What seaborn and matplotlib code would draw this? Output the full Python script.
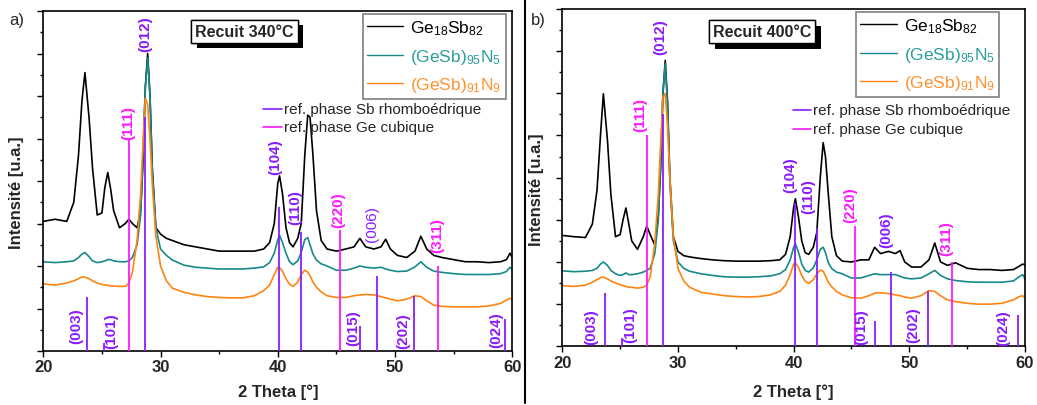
import numpy as np
import pandas as pd
import matplotlib
matplotlib.use("Agg")
import matplotlib.pyplot as plt
import matplotlib.patheffects as pe
from matplotlib.lines import Line2D
from matplotlib.ticker import MultipleLocator, NullFormatter
import seaborn as sns

# ---------------------------------------------------------------- data
TWO_THETA = [20, 21, 22, 22.6, 23.0, 23.3, 23.55, 23.9, 24.2, 24.6, 25.0, 25.25, 25.5,
             25.75, 26.0, 26.5, 27.0, 27.3, 27.6, 28.0, 28.3, 28.5, 28.7, 28.9, 29.1,
             29.3, 29.6, 30.0, 30.5, 31, 32, 33, 34, 35, 36, 37, 38, 38.8, 39.3, 39.7,
             40.0, 40.15, 40.4, 40.7, 41.0, 41.3, 41.7, 42.0, 42.3, 42.55, 42.75, 43.0,
             43.3, 43.7, 44.2, 45, 45.8, 46.5, 47.0, 47.5, 48.2, 48.8, 49.2, 49.6, 50.2,
             51.0, 51.7, 52.2, 52.7, 53.3, 54, 55, 56, 57, 58, 59, 59.5, 59.8, 60]

# annealed at 340 °C
A_GESB = [3.05, 3.10, 3.05, 3.50, 4.60, 5.90, 6.55, 5.50, 4.30, 3.20, 3.25, 3.85, 4.20,
          3.80, 3.30, 2.90, 3.00, 3.10, 3.00, 2.90, 3.30, 4.40, 6.20, 7.00, 6.00,
          4.30, 2.90, 2.75, 2.65, 2.60, 2.50, 2.45, 2.40, 2.35, 2.35, 2.35, 2.35, 2.40, 2.55, 3.00,
          3.95, 4.12, 3.70, 2.90, 2.55, 2.45, 2.65, 3.00, 4.60, 5.55, 5.50, 4.60,
          3.30, 2.60, 2.40, 2.35, 2.40, 2.45, 2.65, 2.45, 2.40, 2.45, 2.63, 2.40, 2.25,
          2.20, 2.35, 2.70, 2.40, 2.25, 2.20, 2.15, 2.10, 2.10, 2.08, 2.10, 2.15, 2.30, 2.20]
A_N5 = [2.10, 2.08, 2.10, 2.12, 2.20, 2.28, 2.32, 2.22, 2.12, 2.08, 2.10, 2.12, 2.15,
        2.15, 2.12, 2.10, 2.10, 2.12, 2.20, 2.50, 3.20, 4.60, 6.20, 6.90, 6.00,
        4.20, 2.90, 2.40, 2.25, 2.14, 2.02, 1.97, 1.95, 1.93, 1.93, 1.93, 1.95, 1.98, 2.08, 2.30,
        2.62, 2.72, 2.55, 2.30, 2.10, 2.03, 2.12, 2.32, 2.62, 2.67, 2.50, 2.28,
        2.14, 2.05, 2.00, 1.90, 1.90, 1.95, 2.00, 1.97, 1.95, 1.97, 1.93, 1.90, 1.87,
        1.88, 1.98, 2.10, 1.97, 1.88, 1.85, 1.82, 1.80, 1.80, 1.80, 1.82, 1.87, 1.97, 1.92]
A_N9 = [1.58, 1.55, 1.60, 1.65, 1.70, 1.74, 1.74, 1.70, 1.65, 1.60, 1.57, 1.55, 1.55,
        1.53, 1.53, 1.52, 1.52, 1.60, 1.85, 2.60, 3.70, 4.90, 5.95, 5.80, 5.00,
        3.90, 2.70, 2.00, 1.65, 1.48, 1.38, 1.32, 1.28, 1.26, 1.25, 1.25, 1.30, 1.42, 1.55, 1.80,
        1.97, 1.96, 1.88, 1.70, 1.57, 1.52, 1.62, 1.80, 1.90, 1.86, 1.77, 1.62,
        1.50, 1.39, 1.30, 1.26, 1.26, 1.30, 1.32, 1.33, 1.32, 1.28, 1.25, 1.22, 1.18,
        1.22, 1.30, 1.28, 1.18, 1.08, 1.05, 1.04, 1.04, 1.04, 1.06, 1.12, 1.20, 1.24, 1.22]

# annealed at 400 °C
B_GESB = [2.63, 2.60, 2.58, 2.90, 3.70, 5.00, 5.99, 4.90, 3.60, 2.60, 2.65, 3.00, 3.28,
          2.90, 2.50, 2.30, 2.60, 2.85, 2.65, 2.40, 3.10, 4.20, 6.00, 6.78, 5.80,
          4.00, 2.60, 2.25, 2.15, 2.12, 2.08, 2.05, 2.03, 2.02, 2.02, 2.02, 2.03, 2.05, 2.18, 2.60,
          3.30, 3.50, 3.10, 2.50, 2.22, 2.18, 2.35, 2.70, 4.00, 4.83, 4.50, 3.60,
          2.60, 2.15, 2.02, 2.00, 2.05, 2.05, 2.35, 2.20, 2.25, 2.20, 2.27, 2.00, 1.88,
          1.88, 2.05, 2.45, 2.00, 1.92, 1.98, 1.85, 1.82, 1.82, 1.80, 1.82, 1.90, 1.95, 1.93]
B_N5 = [1.79, 1.77, 1.78, 1.80, 1.85, 1.95, 2.00, 1.92, 1.80, 1.72, 1.68, 1.70, 1.74,
        1.70, 1.70, 1.72, 1.76, 1.80, 1.85, 2.20, 3.00, 4.40, 6.00, 6.70, 5.70,
        3.90, 2.50, 2.00, 1.85, 1.78, 1.72, 1.68, 1.65, 1.64, 1.64, 1.65, 1.67, 1.72, 1.82, 2.05,
        2.35, 2.43, 2.25, 1.95, 1.80, 1.76, 1.86, 2.05, 2.30, 2.35, 2.22, 1.98,
        1.84, 1.76, 1.72, 1.62, 1.62, 1.68, 1.72, 1.70, 1.70, 1.70, 1.66, 1.62, 1.60,
        1.62, 1.72, 1.80, 1.68, 1.60, 1.56, 1.53, 1.52, 1.52, 1.52, 1.55, 1.65, 1.70, 1.60]
B_N9 = [1.44, 1.42, 1.45, 1.52, 1.58, 1.63, 1.64, 1.60, 1.55, 1.50, 1.46, 1.44, 1.42,
        1.40, 1.40, 1.38, 1.40, 1.45, 1.65, 2.45, 3.60, 4.80, 5.90, 6.00, 5.20,
        4.00, 2.60, 1.85, 1.55, 1.40, 1.28, 1.24, 1.20, 1.18, 1.17, 1.18, 1.22, 1.30, 1.45, 1.70,
        1.95, 1.98, 1.88, 1.68, 1.54, 1.49, 1.58, 1.72, 1.81, 1.78, 1.67, 1.52,
        1.41, 1.30, 1.22, 1.15, 1.14, 1.20, 1.26, 1.27, 1.25, 1.22, 1.20, 1.17, 1.14,
        1.20, 1.32, 1.30, 1.20, 1.10, 1.06, 1.02, 1.00, 1.00, 1.02, 1.10, 1.18, 1.20, 1.14]

SAMPLES = ["Ge$_{18}$Sb$_{82}$", "(GeSb)$_{95}$N$_{5}$", "(GeSb)$_{91}$N$_{9}$"]

# reference diffraction lines
SB_POS = [23.7, 25.2, 28.7, 40.1, 42.0, 47.05, 48.45, 51.6, 59.4]
SB_HKL = ["(003)", "(101)", "(012)", "(104)", "(110)", "(015)", "(006)", "(202)", "(024)"]
SB_HEIGHT = [1.27, 0.2, 5.5, 3.4, 2.8, 0.6, 1.76, 1.3, 0.75]
GE_POS = [27.3, 45.3, 53.7]
GE_HKL = ["(111)", "(220)", "(311)"]
GE_HEIGHT = [5.0, 2.85, 2.0]

# ---------------------------------------------------------------- style
sns.set_style("ticks")
plt.rcParams["font.family"] = ["Liberation Sans", "DejaVu Sans"]
plt.rcParams["mathtext.fontset"] = "custom"
plt.rcParams["mathtext.rm"] = "Liberation Sans"
plt.rcParams["mathtext.it"] = "Liberation Sans:italic"
plt.rcParams["mathtext.bf"] = "Liberation Sans:bold"

COLORS = ["#000000", "#17898a", "#ff8410"]
TEXT_COLORS = ["#000000", "#2a9d9b", "#ff9230"]
SB_COLOR = "#8a1cff"
GE_COLOR = "#ff19ff"

# where each Miller index label sits (data coords) in each panel
LABELS_A = {"(003)": (22.85, 0.6), "(101)": (25.83, 0.5), "(012)": (28.67, 7.49),
            "(104)": (39.74, 4.58), "(110)": (41.45, 3.4), "(015)": (46.43, 0.55),
            "(006)": (48.02, 3.02), "(202)": (50.69, 0.5), "(024)": (58.65, 0.52),
            "(111)": (27.23, 5.4), "(220)": (45.12, 3.33), "(311)": (53.56, 2.75)}
LABELS_B = {"(003)": (22.54, 0.49), "(101)": (25.85, 0.52), "(012)": (28.44, 7.35),
            "(104)": (39.68, 4.08), "(110)": (41.24, 3.58), "(015)": (45.88, 0.48),
            "(006)": (48.04, 2.77), "(202)": (50.31, 0.52), "(024)": (58.16, 0.45),
            "(111)": (26.78, 5.52), "(220)": (44.87, 3.38), "(311)": (53.16, 2.58)}

fig = plt.figure(figsize=(10.37, 4.06), dpi=100)
ax_a = fig.add_axes([43.3 / 1037, 54 / 406, 469 / 1037, 340 / 406])
ax_b = fig.add_axes([562.3 / 1037, 58.7 / 406, 462.7 / 1037, 337.3 / 406])

panels = [
    dict(ax=ax_a, series=[A_GESB, A_N5, A_N9], title="Recuit 340°C", letter="a)",
         labels=LABELS_A, light={"(006)"}, leg_anchor=(0.986, 0.991),
         ref_x=(263, 282, 284), ref_y=(110, 128), title_xy=(0.429, 0.94),
         ylab_xy=(-0.041, 0.468), xlab_y=-0.094, letter_x=17),
    dict(ax=ax_b, series=[B_GESB, B_N5, B_N9], title="Recuit 400°C", letter="b)",
         labels=LABELS_B, light=set(), leg_anchor=(0.944, 0.991),
         ref_x=(793, 811, 813), ref_y=(111, 130), title_xy=(0.432, 0.932),
         ylab_xy=(-0.0406, 0.466), xlab_y=-0.109, letter_x=538),
]

for p in panels:
    ax = p["ax"]
    frames = [pd.DataFrame({"two_theta": TWO_THETA, "intensity": vals, "sample": name})
              for name, vals in zip(SAMPLES, p["series"])]
    df = pd.concat(frames, ignore_index=True)
    sns.lineplot(data=df, x="two_theta", y="intensity", hue="sample",
                 palette=dict(zip(SAMPLES, COLORS)), estimator=None, sort=False,
                 legend=False, linewidth=1.2, ax=ax)

    # reference lines
    ax.vlines(SB_POS, 0, SB_HEIGHT, color=SB_COLOR, lw=1.3, zorder=5)
    ax.vlines(GE_POS, 0, GE_HEIGHT, color=GE_COLOR, lw=1.3, zorder=5)
    for hkl_list, col in ((SB_HKL, SB_COLOR), (GE_HKL, GE_COLOR)):
        for hkl in hkl_list:
            x, y = p["labels"][hkl]
            ax.text(x, y, hkl, rotation=90, ha="center", va="center", color=col,
                    fontsize=11, fontweight="normal" if hkl in p["light"] else "bold",
                    zorder=6)

    ax.set_xlim(20, 60)
    ax.set_ylim(0, 8)
    ax.xaxis.set_major_locator(MultipleLocator(10))
    ax.xaxis.set_minor_locator(MultipleLocator(5))
    ax.yaxis.set_major_locator(MultipleLocator(1))
    ax.yaxis.set_minor_locator(MultipleLocator(0.5))
    ax.yaxis.set_major_formatter(NullFormatter())
    ax.tick_params(axis="both", which="major", direction="out", length=4, width=1,
                   color="black", labelsize=12, pad=2)
    ax.tick_params(axis="both", which="minor", direction="out", length=2.5, width=1,
                   color="black")
    for lab in ax.get_xticklabels():
        lab.set_fontweight("bold")
    for sp in ax.spines.values():
        sp.set_visible(True)
        sp.set_color("black")
        sp.set_linewidth(1.2)

    ax.set_xlabel("2 Theta [°]", fontsize=12, fontweight="bold")
    ax.set_ylabel("Intensité [u.a.]", fontsize=12, fontweight="bold")
    ax.xaxis.set_label_coords(0.5, p["xlab_y"])
    ax.yaxis.set_label_coords(*p["ylab_xy"])

    # sample legend
    handles = [Line2D([], [], color=c, lw=1.0) for c in COLORS]
    leg = ax.legend(handles, SAMPLES, loc="upper right", bbox_to_anchor=p["leg_anchor"],
                    borderaxespad=0, frameon=True, fancybox=False, framealpha=1,
                    edgecolor="#7f7f7f", fontsize=12.5, handlelength=2.1,
                    handletextpad=0.4, borderpad=0.25, labelspacing=0.55)
    leg.get_frame().set_linewidth(1.2)
    for t, c in zip(leg.get_texts(), TEXT_COLORS):
        t.set_color(c)

    # reference phase keys
    x0, x1, xt = p["ref_x"]
    for yrow, col, txt in zip(p["ref_y"], (SB_COLOR, GE_COLOR),
                              ("ref. phase Sb rhomboédrique", "ref. phase Ge cubique")):
        fy = 1 - yrow / 406
        fig.add_artist(Line2D([x0 / 1037, x1 / 1037], [fy, fy], color=col, lw=1.2))
        fig.text(xt / 1037, fy, txt, fontsize=11, va="center", ha="left")

    # annealing temperature box with drop shadow
    t = ax.text(*p["title_xy"], p["title"], transform=ax.transAxes, ha="center",
                va="center", fontsize=11.5, fontweight="bold", zorder=8,
                bbox=dict(boxstyle="square,pad=0.25", fc="white", ec="black", lw=1))
    t.get_bbox_patch().set_path_effects(
        [pe.withSimplePatchShadow(offset=(4, -4), shadow_rgbFace="black", alpha=1.0),
         pe.Normal()])

    fig.text(p["letter_x"] / 1037, 1 - 21 / 406, p["letter"], fontsize=12,
             ha="center", va="center")

# divider between the two panels
fig.add_artist(Line2D([525 / 1037, 525 / 1037], [0.005, 1.0], color="black", lw=1.5))

fig.savefig("out.png", dpi=100)
